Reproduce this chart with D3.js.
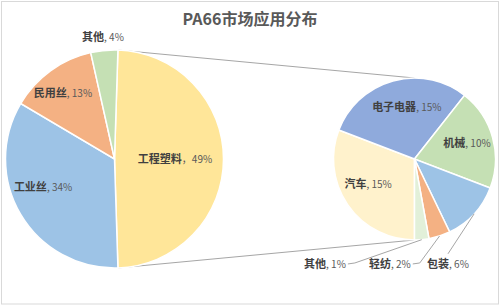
<!DOCTYPE html>
<html>
<head>
<meta charset="utf-8">
<script src="https://cdn.jsdelivr.net/npm/d3@7"></script>
<style>
  body { margin: 0; background: #fff; }
  text { font-family: "Noto Sans CJK SC", "Noto Sans", sans-serif; }
</style>
</head>
<body>
<svg id="chart" width="500" height="306"></svg>
<script>
// data
const title = 'PA66市场应用分布';
const mainCategories = ['工程塑料', '工业丝', '民用丝', '其他'];
const mainValues = [49, 34, 13, 4];
const subCategories = ['汽车', '电子电器', '机械', '包装', '轻纺', '其他'];
const subValues = [15.1, 14.6, 9.9, 5.9, 2.1, 1.4];

// styles
const mainColors = ['#FFE699', '#9DC3E6', '#F4B183', '#C5E0B4'];
const subColors = ['#FFF2CC', '#8FAADC', '#C5E0B4', '#9DC3E6', '#F4B183', '#E2F0D9'];
// label placement: [radius factor, angle offset in degrees] relative to slice middle
const mainLabelPlace = [[0.555, 0], [0.705, 9], [0.768, -2], [1.124, 0]];
const subLabelPlace = [[0.652, 6], [0.648, 7], [0.678, -1.6], [1.36, 29.7], [1.331, 31.2], [1.703, 45.6]];
const subLeader = [false, false, false, 'up', 'side', 'side'];

const svg = d3.select('#chart');
const W = 500, H = 306;

svg.append('rect')
  .attr('x', 1.5).attr('y', 1.5)
  .attr('width', W - 3).attr('height', H - 3.5)
  .attr('fill', '#fff')
  .attr('stroke', '#d9d9d9');

svg.append('text')
  .attr('x', W / 2).attr('y', 25)
  .attr('text-anchor', 'middle')
  .attr('font-size', 16).attr('font-weight', 'bold')
  .attr('fill', '#595959')
  .text(title);

const left = { cx: 114.5, cy: 159, r: 109 };
const right = { cx: 414.5, cy: 159, r: 81 };

const mainTotal = d3.sum(mainValues);
const splitShare = mainValues[0] / mainTotal;
const mainStart = Math.PI / 2 - splitShare * Math.PI;

const mainPie = d3.pie().sort(null)
  .startAngle(mainStart).endAngle(mainStart + 2 * Math.PI);
const subPie = d3.pie().sort(null)
  .startAngle(Math.PI).endAngle(3 * Math.PI);

const mainArcs = mainPie(mainValues);
const subArcs = subPie(subValues);

const polar = (c, a, rad) => [c.cx + rad * Math.sin(a), c.cy - rad * Math.cos(a)];

// connector lines between the split slice and the second pie
const split = mainArcs[0];
const conn = [
  [polar(left, split.startAngle, left.r), polar(right, 0, right.r)],
  [polar(left, split.endAngle, left.r), polar(right, Math.PI, right.r)]
];
svg.selectAll('line.conn').data(conn).enter().append('line')
  .attr('class', 'conn')
  .attr('x1', d => d[0][0]).attr('y1', d => d[0][1])
  .attr('x2', d => d[1][0]).attr('y2', d => d[1][1])
  .attr('stroke', '#a6a6a6').attr('stroke-width', 1);

function drawPie(c, arcs, colors) {
  const arc = d3.arc().innerRadius(0).outerRadius(c.r);
  svg.append('g')
    .attr('transform', 'translate(' + c.cx + ',' + c.cy + ')')
    .selectAll('path')
    .data(arcs).enter().append('path')
      .attr('d', arc)
      .attr('fill', (d, i) => colors[i])
      .attr('stroke', '#fff')
      .attr('stroke-width', 1.5);
}
drawPie(left, mainArcs, mainColors);
drawPie(right, subArcs, subColors);

const pct = d3.format('.0f');

function addLabel(x, y, name, value, sep) {
  const t = svg.append('text')
    .attr('x', x).attr('y', y)
    .attr('dy', '0.35em')
    .attr('text-anchor', 'middle')
    .attr('font-size', 11);
  t.append('tspan').attr('font-weight', 'bold').attr('fill', '#404040').text(name);
  t.append('tspan').attr('fill', '#595959').attr('font-size', 10).text(sep + pct(value) + '%');
  return t;
}

const toRad = Math.PI / 180;

mainArcs.forEach((d, i) => {
  const mid = (d.startAngle + d.endAngle) / 2 + mainLabelPlace[i][1] * toRad;
  const p = polar(left, mid, left.r * mainLabelPlace[i][0]);
  const share = mainValues[i] / mainTotal * 100;
  addLabel(p[0], p[1], mainCategories[i], share, i === 0 ? '，' : ', ');
});

const subTotal = d3.sum(subValues);
subArcs.forEach((d, i) => {
  const midRaw = (d.startAngle + d.endAngle) / 2;
  const mid = midRaw + subLabelPlace[i][1] * toRad;
  const p = polar(right, mid, right.r * subLabelPlace[i][0]);
  const share = subValues[i] / subTotal * splitShare * 100;
  const t = addLabel(p[0], p[1], subCategories[i], share, ', ');
  if (!subLeader[i]) return;
  const bb = t.node().getBBox();
  const anchor = polar(right, midRaw, right.r);
  let pts;
  if (subLeader[i] === 'side') {
    const y = p[1];
    pts = [[bb.x + bb.width + 2, y], [bb.x + bb.width + 9, y - 1], anchor];
  } else {
    pts = [[p[0], bb.y - 1], anchor];
  }
  svg.append('path')
    .attr('d', d3.line()(pts))
    .attr('fill', 'none')
    .attr('stroke', '#a6a6a6')
    .attr('stroke-width', 1);
});
</script>
</body>
</html>
